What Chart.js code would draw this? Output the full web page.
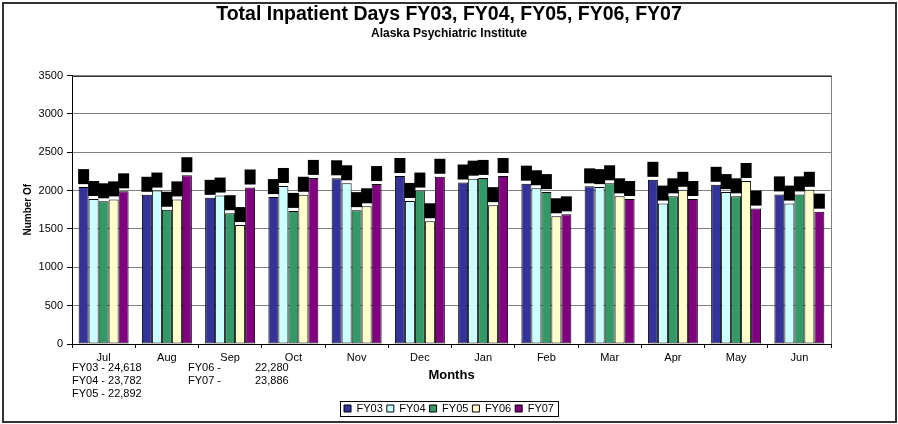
<!DOCTYPE html>
<html>
<head>
<meta charset="utf-8">
<title>Total Inpatient Days</title>
<script src="https://cdn.jsdelivr.net/npm/chart.js@4.4.0/dist/chart.umd.min.js"></script>
<style>
  html, body { margin: 0; padding: 0; background: #fff; }
  #wrap { width: 898px; height: 424px; }
</style>
</head>
<body>
<div id="wrap"><canvas id="chart" width="898" height="424"></canvas></div>
<script>
/* ── DATA ────────────────────────────────────── */
const months = ['Jul', 'Aug', 'Sep', 'Oct', 'Nov', 'Dec', 'Jan', 'Feb', 'Mar', 'Apr', 'May', 'Jun'];
const fy03 = [2045, 1945, 1905, 1915, 2160, 2190, 2105, 2090, 2055, 2140, 2075, 1950];
const fy04 = [1890, 2000, 1935, 2060, 2095, 1865, 2155, 2030, 2045, 1830, 1980, 1830];
const fy05 = [1860, 1750, 1705, 1735, 1745, 2000, 2165, 1980, 2095, 1925, 1925, 1950];
const fy06 = [1885, 1885, 1550, 1945, 1795, 1600, 1810, 1665, 1925, 2010, 2125, 2010];
const fy07 = [1990, 2200, 2040, 2165, 2085, 2180, 2190, 1690, 1890, 1890, 1765, 1725];
const seriesNames = ['FY03', 'FY04', 'FY05', 'FY06', 'FY07'];
const seriesColors = ['#333399', '#ccffff', '#339966', '#ffffcc', '#800080'];
const yMax = 3500;
const yStep = 500;
const totalsLeft = ['FY03 - 24,618', 'FY04 - 23,782', 'FY05 - 22,892'];
const totalsRight = [['FY06 -', '22,280'], ['FY07 -', '23,886']];

const FONT = "'Liberation Sans', Arial, sans-serif";

/* ── PLUGINS ─────────────────────────────────── */
// black label blocks sitting just above each bar
const labelBlocks = {
    id: 'labelBlocks',
    afterDatasetsDraw(chart) {
        const ctx = chart.ctx;
        ctx.save();
        ctx.fillStyle = '#000';
        chart.data.datasets.forEach((ds, i) => {
            chart.getDatasetMeta(i).data.forEach(bar => {
                const w = bar.width + 1;
                ctx.fillRect(bar.x - w / 2, bar.y - 3 - 15, w, 15);
            });
        });
        ctx.restore();
    }
};

// frame, totals text and legend box
const decorations = {
    id: 'decorations',
    afterDraw(chart) {
        const ctx = chart.ctx;
        const a = chart.chartArea;
        ctx.save();

        // plot area edges
        ctx.lineWidth = 1;
        ctx.strokeStyle = '#808080';
        ctx.beginPath();
        ctx.moveTo(Math.round(a.right) + 0.5, a.top);
        ctx.lineTo(Math.round(a.right) + 0.5, a.bottom);
        ctx.stroke();
        ctx.strokeStyle = '#333';
        ctx.beginPath();
        ctx.moveTo(a.left, Math.round(a.top) + 0.5);
        ctx.lineTo(a.right + 1, Math.round(a.top) + 0.5);
        ctx.stroke();

        // outer border
        ctx.lineWidth = 2;
        ctx.strokeStyle = '#333';
        ctx.strokeRect(3, 3, 893, 419);

        // FY totals
        ctx.fillStyle = '#000';
        ctx.font = '11px ' + FONT;
        ctx.textBaseline = 'middle';
        ctx.textAlign = 'left';
        totalsLeft.forEach((t, i) => ctx.fillText(t, 72, 368 + i * 13));
        totalsRight.forEach((t, i) => {
            ctx.fillText(t[0], 188, 368 + i * 13);
            ctx.fillText(t[1], 255, 368 + i * 13);
        });

        // legend box
        const boxes = chart.legend.legendHitBoxes;
        if (boxes && boxes.length) {
            const l = boxes[0].left - 4;
            const r = boxes[boxes.length - 1].left + boxes[boxes.length - 1].width + 4;
            const t = boxes[0].top - 2;
            const b = boxes[0].top + boxes[0].height + 2;
            ctx.lineWidth = 1;
            ctx.strokeStyle = '#000';
            ctx.strokeRect(Math.round(l) + 0.5, Math.round(t) + 0.5, Math.round(r - l), Math.round(b - t));
        }
        ctx.restore();
    }
};

/* ── CHART ───────────────────────────────────── */
const seriesData = [fy03, fy04, fy05, fy06, fy07];

new Chart(document.getElementById('chart'), {
    type: 'bar',
    data: {
        labels: months,
        datasets: seriesNames.map((name, i) => ({
            label: name,
            data: seriesData[i],
            backgroundColor: seriesColors[i],
            borderColor: '#000',
            borderWidth: 1,
            borderSkipped: false,
            categoryPercentage: 0.79,
            barPercentage: 1.0
        }))
    },
    options: {
        responsive: false,
        animation: false,
        devicePixelRatio: 1,
        layout: { padding: { left: 0, right: 0, top: 0, bottom: 0 } },
        plugins: {
            title: {
                display: true,
                text: 'Total Inpatient Days FY03, FY04, FY05, FY06, FY07',
                color: '#000',
                font: { family: FONT, size: 19.5, weight: 'bold', lineHeight: 1.0 },
                padding: { top: 5, bottom: 0 }
            },
            subtitle: {
                display: true,
                text: 'Alaska Psychiatric Institute',
                color: '#000',
                font: { family: FONT, size: 12, weight: 'bold', lineHeight: 1.0 },
                padding: { top: 3, bottom: 36 }
            },
            legend: {
                position: 'bottom',
                labels: {
                    color: '#000',
                    font: { family: FONT, size: 11 },
                    boxWidth: 7,
                    boxHeight: 7,
                    padding: 4
                }
            },
            tooltip: { enabled: false }
        },
        scales: {
            x: {
                grid: {
                    display: true,
                    drawOnChartArea: false,
                    drawTicks: true,
                    tickLength: 4,
                    color: '#000'
                },
                border: { display: true, color: '#000' },
                ticks: {
                    color: '#000',
                    font: { family: FONT, size: 11 },
                    padding: 3,
                    maxRotation: 0
                },
                title: {
                    display: true,
                    text: 'Months',
                    color: '#000',
                    font: { family: FONT, size: 13, weight: 'bold', lineHeight: 1.2 },
                    padding: { top: 2, bottom: 16 }
                },
                afterFit(scale) { scale.height = 55; }
            },
            y: {
                min: 0,
                max: yMax,
                grid: {
                    color: '#808080',
                    tickColor: '#000',
                    tickLength: 5
                },
                border: { display: true, color: '#000' },
                ticks: {
                    stepSize: yStep,
                    color: '#000',
                    font: { family: FONT, size: 11 },
                    padding: 4,
                    callback: v => String(v)
                },
                title: {
                    display: true,
                    text: 'Number Of',
                    color: '#000',
                    font: { family: FONT, size: 10, weight: 'bold', lineHeight: 1.2 },
                    padding: { top: 22, bottom: 0 }
                },
                afterFit(scale) { scale.width = 72; }
            },
            // empty right-hand margin so title and legend stay centred on the page
            yRight: {
                position: 'right',
                display: true,
                grid: { display: false },
                border: { display: false },
                ticks: { display: false },
                afterFit(scale) { scale.width = 67; }
            }
        }
    },
    plugins: [labelBlocks, decorations]
});
</script>
</body>
</html>
